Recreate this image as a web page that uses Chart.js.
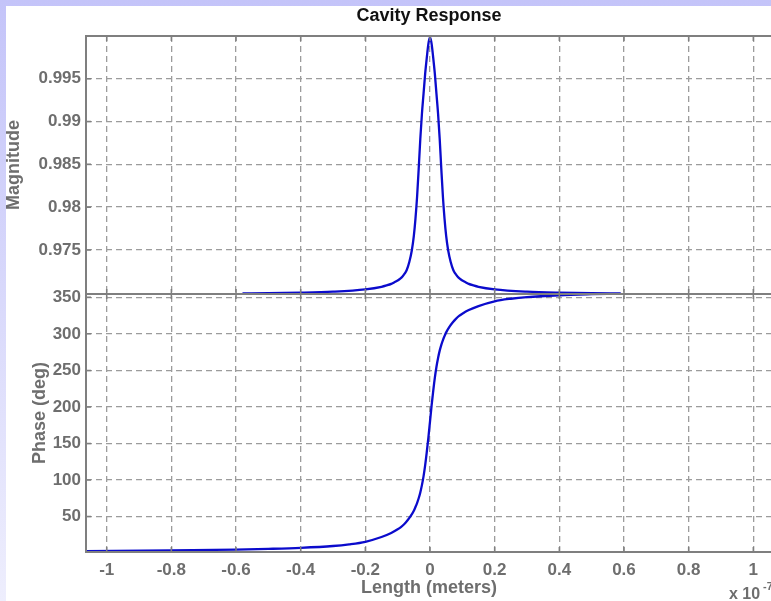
<!DOCTYPE html>
<html>
<head>
<meta charset="utf-8">
<script src="https://cdn.jsdelivr.net/npm/chart.js@4.4.0/dist/chart.umd.min.js"></script>
<style>
  html, body { margin: 0; padding: 0; width: 771px; height: 601px; overflow: hidden;
    background: linear-gradient(#c4c4f9, #eeeefd); }
  #panel { position: absolute; left: 6px; top: 6px; width: 800px; height: 600px; background: #fff; }
  #wrap { position: absolute; left: 0; top: 0; width: 790px; height: 601px; }
</style>
</head>
<body>
<div id="panel"></div>
<div id="wrap"><canvas id="c"></canvas></div>
<script>
// length axis is in units of 1e-7 m
var lengthTicks = [-1, -0.8, -0.6, -0.4, -0.2, 0, 0.2, 0.4, 0.6, 0.8, 1];
var magTicks = [0.975, 0.98, 0.985, 0.99, 0.995];
var phaseTicks = [50, 100, 150, 200, 250, 300, 350];

// magnitude curve
var magLength = [-0.58, -0.5, -0.4, -0.3, -0.2, -0.15, -0.134, -0.12, -0.11, -0.1, -0.092, -0.085, -0.078, -0.072,
  -0.064, -0.056, -0.05, -0.045, -0.04, -0.035, -0.03, -0.025, -0.02, -0.015, -0.01, -0.005, 0,
  0.005, 0.01, 0.015, 0.02, 0.025, 0.03, 0.035, 0.04, 0.045, 0.05, 0.056, 0.064, 0.072, 0.078, 0.085, 0.092, 0.1,
  0.11, 0.12, 0.134, 0.15, 0.2, 0.3, 0.4, 0.5, 0.59];
var magnitude = [0.96992, 0.96994, 0.97000, 0.97012, 0.97039, 0.97069, 0.97086, 0.97104, 0.97123, 0.97143, 0.97164,
  0.97190, 0.97225, 0.97266, 0.97359, 0.97499, 0.97663, 0.97862, 0.98119, 0.98446, 0.98797, 0.99089, 0.99323,
  0.99557, 0.99744, 0.99908, 0.99989,
  0.99908, 0.99744, 0.99557, 0.99323, 0.99089, 0.98797, 0.98446, 0.98119, 0.97862, 0.97663, 0.97499, 0.97359,
  0.97266, 0.97225, 0.97190, 0.97164, 0.97143, 0.97123, 0.97104, 0.97086, 0.97069, 0.97039, 0.97012, 0.97000,
  0.96994, 0.96992];

// phase curve
var phaseLength = [-1.064, -0.8, -0.6, -0.5, -0.4, -0.3, -0.25, -0.2, -0.15, -0.12, -0.1, -0.09, -0.08, -0.07, -0.06,
  -0.05, -0.045, -0.04, -0.035, -0.03, -0.025, -0.02, -0.015, -0.01, -0.005, 0,
  0.005, 0.01, 0.015, 0.02, 0.025, 0.03, 0.035, 0.04, 0.045, 0.05, 0.06, 0.07, 0.08, 0.09, 0.1, 0.12, 0.15, 0.2,
  0.25, 0.3, 0.4, 0.5, 0.6, 0.8, 1.064];
var phase = [2.7, 3.6, 4.8, 5.8, 7.2, 9.7, 12, 15.5, 22, 27.5, 32.5, 35.5, 39.5, 44.5, 50.5,
  58, 63, 68.5, 75, 83, 93, 105, 120, 138, 158, 180,
  202, 222, 240, 255, 267, 277, 285, 291.5, 297, 302, 309.5, 315.5, 320.5, 324.5, 327.5, 332.5, 338, 344.5,
  348, 350.3, 352.8, 354.2, 355.2, 356.4, 357.3];

var FONT = '"Liberation Sans", Arial, sans-serif';
var GRAY = '#6e6e6e';

function pts(xs, ys) {
  return xs.map(function (x, i) { return { x: x, y: ys[i] }; });
}
function setTicks(vals) {
  return function (scale) { scale.ticks = vals.map(function (v) { return { value: v }; }); };
}
function fmt(v) { return String(+v.toFixed(4)); }

var gridOpts = { color: '#9c9c9c', lineWidth: 1.3, drawTicks: false };
var borderOpts = { display: false, dash: [6, 4] };

const frame = {
  id: 'frame',
  afterDatasetsDraw(chart) {
    const ctx = chart.ctx, a = chart.chartArea, s = chart.scales;
    const mid = s.yMag.bottom;
    ctx.save();
    ctx.strokeStyle = '#7f7f7f';
    ctx.lineWidth = 2;
    ctx.strokeRect(a.left, a.top, a.right - a.left, a.bottom - a.top);
    ctx.beginPath();
    ctx.moveTo(a.left, mid); ctx.lineTo(a.right, mid);
    ctx.stroke();
    // small inward tick marks like matlab
    ctx.lineWidth = 1.5;
    ctx.beginPath();
    lengthTicks.forEach(function (v) {
      const px = s.x.getPixelForValue(v);
      ctx.moveTo(px, a.top); ctx.lineTo(px, a.top + 5);
      ctx.moveTo(px, mid - 5); ctx.lineTo(px, mid + 5);
      ctx.moveTo(px, a.bottom); ctx.lineTo(px, a.bottom - 5);
    });
    magTicks.forEach(function (v) {
      const py = s.yMag.getPixelForValue(v);
      ctx.moveTo(a.left, py); ctx.lineTo(a.left + 5, py);
    });
    phaseTicks.forEach(function (v) {
      const py = s.yPhase.getPixelForValue(v);
      ctx.moveTo(a.left, py); ctx.lineTo(a.left + 5, py);
    });
    ctx.stroke();
    ctx.restore();
  },
  afterDraw(chart) {
    const ctx = chart.ctx;
    ctx.save();
    ctx.textAlign = 'center';
    ctx.textBaseline = 'middle';
    ctx.fillStyle = '#111';
    ctx.font = 'bold 18px ' + FONT;
    ctx.fillText('Cavity Response', 429, 16);
    ctx.fillStyle = GRAY;
    ctx.fillText('Length (meters)', 429, 588);
    ctx.save();
    ctx.translate(14, 165); ctx.rotate(-Math.PI / 2);
    ctx.fillText('Magnitude', 0, 0);
    ctx.restore();
    ctx.save();
    ctx.translate(40, 413); ctx.rotate(-Math.PI / 2);
    ctx.fillText('Phase (deg)', 0, 0);
    ctx.restore();
    ctx.textAlign = 'left';
    ctx.font = 'bold 16px ' + FONT;
    ctx.fillText('x 10', 729, 595);
    ctx.font = 'bold 11px ' + FONT;
    ctx.fillText('-7', 763, 587);
    ctx.restore();
  }
};

new Chart(document.getElementById('c'), {
  type: 'line',
  data: {
    datasets: [
      { label: 'Phase', data: pts(phaseLength, phase), yAxisID: 'yPhase',
        borderColor: '#0b0bcc', borderWidth: 2.3, pointRadius: 0, cubicInterpolationMode: 'monotone', fill: false },
      { label: 'Magnitude', data: pts(magLength, magnitude), yAxisID: 'yMag',
        borderColor: '#0b0bcc', borderWidth: 2.3, pointRadius: 0, cubicInterpolationMode: 'monotone', fill: false }
    ]
  },
  options: {
    responsive: true,
    maintainAspectRatio: false,
    animation: false,
    layout: { padding: { top: 36, right: 16, left: 0, bottom: 0 } },
    plugins: { legend: { display: false }, tooltip: { enabled: false }, title: { display: false } },
    scales: {
      x: {
        type: 'linear', min: -1.064, max: 1.064,
        afterBuildTicks: setTicks(lengthTicks),
        afterFit: function (scale) { scale.height = 49; },
        grid: gridOpts, border: borderOpts,
        ticks: { padding: 8, color: GRAY, font: { family: FONT, size: 17, weight: 'bold' },
          callback: function (v) { return fmt(v); } }
      },
      yPhase: {
        type: 'linear', position: 'left', stack: 'sub', stackWeight: 1,
        min: 1.5, max: 354.5,
        afterBuildTicks: setTicks(phaseTicks),
        afterFit: function (scale) { scale.width = 86; },
        grid: gridOpts, border: borderOpts,
        ticks: { padding: 5, color: GRAY, font: { family: FONT, size: 17, weight: 'bold' },
          callback: function (v) { return fmt(v); } }
      },
      yMag: {
        type: 'linear', position: 'left', stack: 'sub', stackWeight: 1,
        min: 0.96985, max: 1.0,
        afterBuildTicks: setTicks(magTicks),
        afterFit: function (scale) { scale.width = 86; },
        grid: gridOpts, border: borderOpts,
        ticks: { padding: 5, color: GRAY, font: { family: FONT, size: 17, weight: 'bold' },
          callback: function (v) { return fmt(v); } }
      }
    }
  },
  plugins: [frame]
});
</script>
</body>
</html>
